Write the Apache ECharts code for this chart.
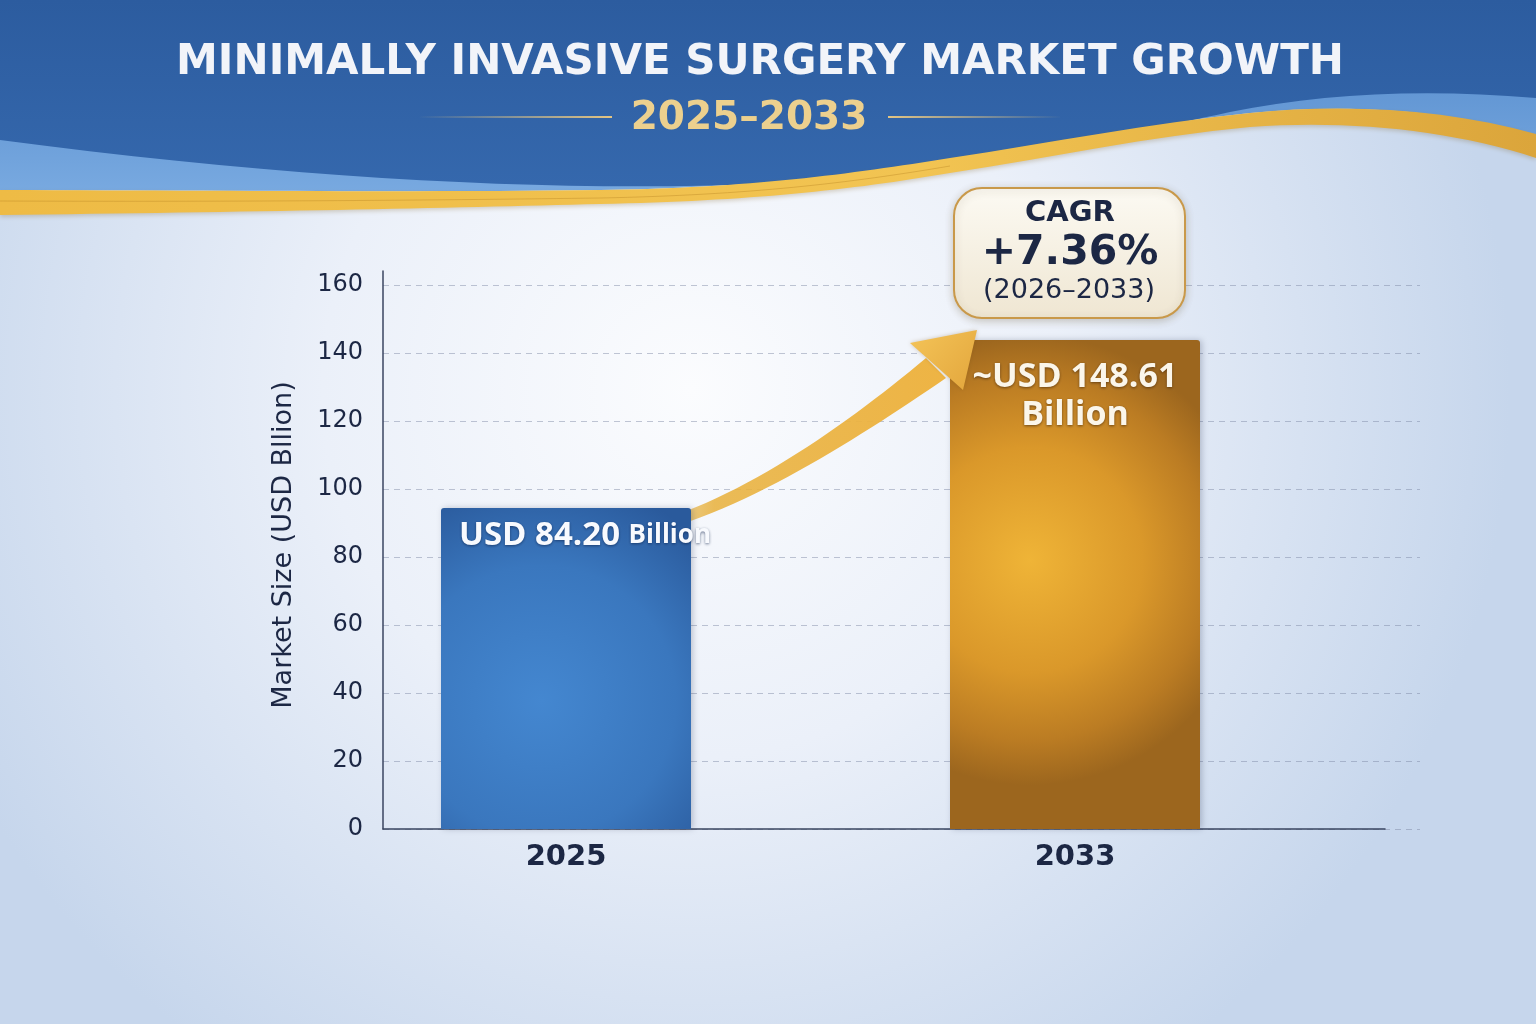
<!DOCTYPE html>
<html><head><meta charset="utf-8">
<script src="https://cdn.jsdelivr.net/npm/echarts@6/dist/echarts.min.js"></script>
<style>html,body{margin:0;padding:0;background:#fff}#c{width:1536px;height:1024px}</style>
</head><body><div id="c"></div>
<script>
const titleText = 'MINIMALLY INVASIVE SURGERY MARKET GROWTH';
const subtitleText = '2025\u20132033';
const categories = ['2025', '2033'];
const marketSize = [94.4, 143.8];
const barLabelMain = ['USD 84.20', '~USD 148.61'];
const barLabelUnit = ['Billion', 'Billion'];
const yMin = 0, yMax = 160, yStep = 20;
const yAxisName = 'Market Size (USD Bllion)';
const cagrLines = ['CAGR', '+7.36%', '(2026\u20132033)'];

const G = echarts.graphic;
function parsePath(d) {
  const toks = d.match(/[MLCHVZ]|-?[\d.]+/g);
  let i = 0, cmds = [], cx = 0, cy = 0, op = 'M';
  while (i < toks.length) {
    const t = toks[i];
    if (/[MLCHVZ]/.test(t)) { op = t; i++; if (op === 'Z') { cmds.push(['Z']); continue; } }
    const n = () => parseFloat(toks[i++]);
    if (op === 'M' || op === 'L') { cx = n(); cy = n(); cmds.push([op, cx, cy]); }
    else if (op === 'H') { cx = n(); cmds.push(['L', cx, cy]); }
    else if (op === 'V') { cy = n(); cmds.push(['L', cx, cy]); }
    else if (op === 'C') { const a = [n(), n(), n(), n(), n(), n()]; cx = a[4]; cy = a[5]; cmds.push(['C'].concat(a)); }
    else i++;
  }
  return cmds;
}
const CmdPath = G.extendShape({
  shape: {cmds: []},
  buildPath(ctx, shape) {
    for (const c of shape.cmds) {
      if (c[0] === 'M') ctx.moveTo(c[1], c[2]);
      else if (c[0] === 'L') ctx.lineTo(c[1], c[2]);
      else if (c[0] === 'C') ctx.bezierCurveTo(c[1], c[2], c[3], c[4], c[5], c[6]);
      else if (c[0] === 'Z') ctx.closePath();
    }
  }
});
G.registerShape('cmdpath', CmdPath);

const chart = echarts.init(document.getElementById('c'));
const navy = '#1c2744';
const DV = '"DejaVu Sans"';

const blueFill = new G.RadialGradient(0.4, 0.6, 0.9, [
  {offset: 0, color: '#4487d0'}, {offset: 0.6, color: '#3a77be'}, {offset: 1, color: '#2a5a9c'}]);
const goldFill = new G.RadialGradient(0.32, 0.45, 0.9, [
  {offset: 0, color: '#efb437'}, {offset: 0.5, color: '#da982a'}, {offset: 0.8, color: '#bb7c23'}, {offset: 1, color: '#9c661e'}]);

const option = {
  animation: false,
  graphic: [
    {type: 'rect', z: -20, shape: {x: 0, y: 0, width: 1536, height: 1024},
      style: {fill: new G.RadialGradient(0.45, 0.38, 0.8, [
        {offset: 0, color: '#fbfcfe'}, {offset: 0.45, color: '#ebf0f9'}, {offset: 1, color: '#c6d6ec'}])}},
    {type: 'cmdpath', z: -15, shape: {cmds: parsePath('M0,0 H1536 V136 C1450,110 1350,103 1250,113 C1150,123 1050,143 950,158 C850,174 750,188 600,190 C450,192 250,191 0,190 Z')},
      style: {fill: new G.LinearGradient(0, 0, 0, 1, [{offset: 0, color: '#4f86c9'}, {offset: 1, color: '#78a9e0'}])}},
    {type: 'cmdpath', z: -14, shape: {cmds: parsePath('M0,0 H1536 V98 C1420,88 1320,94 1230,112 C1100,140 950,174 760,184 C560,192 300,180 0,140 Z')},
      style: {fill: new G.LinearGradient(0, 0, 0, 1, [{offset: 0, color: '#2c5c9f'}, {offset: 1, color: '#3568ad'}])}},
    {type: 'cmdpath', z: -13, shape: {cmds: parsePath('M0,190 C250,191 450,192 600,190 C750,188 850,174 950,158 C1050,143 1150,123 1250,113 C1350,103 1450,110 1536,134 L1536,158 C1450,130 1350,120 1250,127 C1150,136 1050,158 950,173 C850,190 750,201 600,204 C450,208 250,212 0,215 Z')},
      style: {fill: new G.LinearGradient(0, 0, 1, 0, [{offset: 0, color: '#eebb45'}, {offset: 0.6, color: '#f2c452'}, {offset: 1, color: '#dba53b'}]),
        shadowColor: 'rgba(120,90,30,0.25)', shadowBlur: 4, shadowOffsetY: 2}},
    {type: 'cmdpath', z: -12, shape: {cmds: parsePath('M0,201 C250,202 450,200 600,198 C750,195 850,183 950,166')},
      style: {fill: null, stroke: 'rgba(190,140,40,0.45)', lineWidth: 1}},
    {type: 'text', z: 10, style: {text: titleText, x: 760, y: 63, align: 'center', verticalAlign: 'middle',
      font: 'bold 42px ' + DV, fill: '#f2f4f9', shadowColor: 'rgba(10,25,60,0.7)', shadowBlur: 4, shadowOffsetY: 2}},
    {type: 'text', z: 10, style: {text: subtitleText, x: 749, y: 119, align: 'center', verticalAlign: 'middle',
      font: 'bold 39px ' + DV, fill: '#ecd08e', shadowColor: 'rgba(10,25,60,0.6)', shadowBlur: 3, shadowOffsetY: 2}},
    {type: 'line', z: 10, shape: {x1: 420, y1: 117, x2: 612, y2: 117}, style: {lineWidth: 2,
      stroke: new G.LinearGradient(0, 0, 1, 0, [{offset: 0, color: 'rgba(230,200,130,0)'}, {offset: 1, color: '#e6c682'}])}},
    {type: 'line', z: 10, shape: {x1: 888, y1: 117, x2: 1060, y2: 117}, style: {lineWidth: 2,
      stroke: new G.LinearGradient(0, 0, 1, 0, [{offset: 0, color: '#e6c682'}, {offset: 1, color: 'rgba(230,200,130,0)'}])}},
    {type: 'cmdpath', z: 4, shape: {cmds: parsePath('M615,531 C720,515 840,430 926,358 L946,378 C855,440 725,526 615,540 Z')},
      style: {fill: new G.LinearGradient(0, 0, 1, 0, [{offset: 0, color: 'rgba(225,175,60,0.1)'}, {offset: 0.3, color: 'rgba(232,176,58,0.85)'}, {offset: 1, color: '#eeb444'}])}},
    {type: 'polygon', z: 20, shape: {points: [[977, 330], [910, 343], [963, 390]]},
      style: {fill: new G.LinearGradient(0, 0, 1, 1, [{offset: 0, color: '#f4c458'}, {offset: 1, color: '#e3a63c'}]),
        shadowColor: 'rgba(120,80,20,0.3)', shadowBlur: 4}},
    {type: 'rect', z: 20, shape: {x: 954, y: 188, width: 231, height: 130, r: 28},
      style: {fill: new G.LinearGradient(0, 0, 0, 1, [{offset: 0, color: '#fcfaf3'}, {offset: 1, color: '#efe6d2'}]),
        stroke: '#c9994a', lineWidth: 2, shadowColor: 'rgba(80,60,20,0.25)', shadowBlur: 8, shadowOffsetY: 2}},
    {type: 'text', z: 21, style: {text: cagrLines[0], x: 1070, y: 213, align: 'center', verticalAlign: 'middle', font: 'bold 29px ' + DV, fill: navy}},
    {type: 'text', z: 21, style: {text: cagrLines[1], x: 1070, y: 253, align: 'center', verticalAlign: 'middle', font: 'bold 41px ' + DV, fill: navy}},
    {type: 'text', z: 21, style: {text: cagrLines[2], x: 1069, y: 291, align: 'center', verticalAlign: 'middle', font: '27px ' + DV, fill: navy}}
  ],
  grid: [
    {left: 383, right: 116, top: 285, bottom: 195},
    {left: 383, right: 151, top: 271, bottom: 195},
    {left: 311.5, right: 206.5, top: 285, bottom: 195}
  ],
  xAxis: [
    {gridIndex: 0, type: 'value', min: 0, max: 1, show: false},
    {gridIndex: 1, type: 'value', min: 0, max: 1, axisLine: {show: true, onZero: false, lineStyle: {color: '#3a4560', width: 1.5}},
      axisTick: {show: false}, axisLabel: {show: false}, splitLine: {show: false}},
    {gridIndex: 2, type: 'category', data: categories, axisLine: {show: false}, axisTick: {show: false},
      axisLabel: {color: navy, fontSize: 29, fontWeight: 'bold', fontFamily: 'DejaVu Sans', margin: 14}}
  ],
  yAxis: [
    {gridIndex: 0, type: 'value', min: yMin, max: yMax, interval: yStep,
      axisLine: {show: false}, axisTick: {show: false},
      axisLabel: {color: navy, fontSize: 24, fontFamily: 'DejaVu Sans', margin: 20},
      splitLine: {show: true, lineStyle: {color: 'rgba(120,130,160,0.45)', type: [6, 5], width: 1}},
      name: yAxisName, nameLocation: 'middle', nameRotate: 90, nameGap: 86,
      nameTextStyle: {color: navy, fontSize: 27, fontFamily: 'DejaVu Sans', padding: [0, 0, 0, 24]}},
    {gridIndex: 1, type: 'value', min: 0, max: 1, axisLine: {show: true, lineStyle: {color: '#3a4560', width: 1.5}},
      axisTick: {show: false}, axisLabel: {show: false}, splitLine: {show: false}},
    {gridIndex: 2, type: 'value', min: yMin, max: yMax, show: false}
  ],
  series: [{
    type: 'bar', xAxisIndex: 2, yAxisIndex: 2, barWidth: 250, z: 5,
    data: marketSize.map((v, i) => ({
      value: v,
      itemStyle: {color: i === 0 ? blueFill : goldFill, borderRadius: [3, 3, 0, 0],
        shadowColor: 'rgba(30,40,70,0.25)', shadowBlur: 6, shadowOffsetX: 2},
      label: i === 0 ? {
        show: true, position: [18, 11],
        formatter: '{a|' + barLabelMain[i] + ' }{b|' + barLabelUnit[i] + '}',
        rich: {
          a: {color: '#f8fafe', fontSize: 33, fontWeight: 'bold', fontFamily: 'Open Sans', textShadowColor: 'rgba(10,30,70,0.6)', textShadowBlur: 3, textShadowOffsetY: 1},
          b: {color: '#f8fafe', fontSize: 26, fontWeight: 'bold', fontFamily: 'Open Sans', textShadowColor: 'rgba(10,30,70,0.6)', textShadowBlur: 3, textShadowOffsetY: 1}
        }
      } : {
        show: true, position: 'insideTop', distance: 18,
        formatter: barLabelMain[i] + '\n' + barLabelUnit[i],
        color: '#fbf6ea', fontSize: 34, fontWeight: 'bold', fontFamily: 'Open Sans', lineHeight: 38,
        textShadowColor: 'rgba(70,40,10,0.7)', textShadowBlur: 3, textShadowOffsetY: 1
      }
    }))
  }]
};
chart.setOption(option);
</script></body></html>
